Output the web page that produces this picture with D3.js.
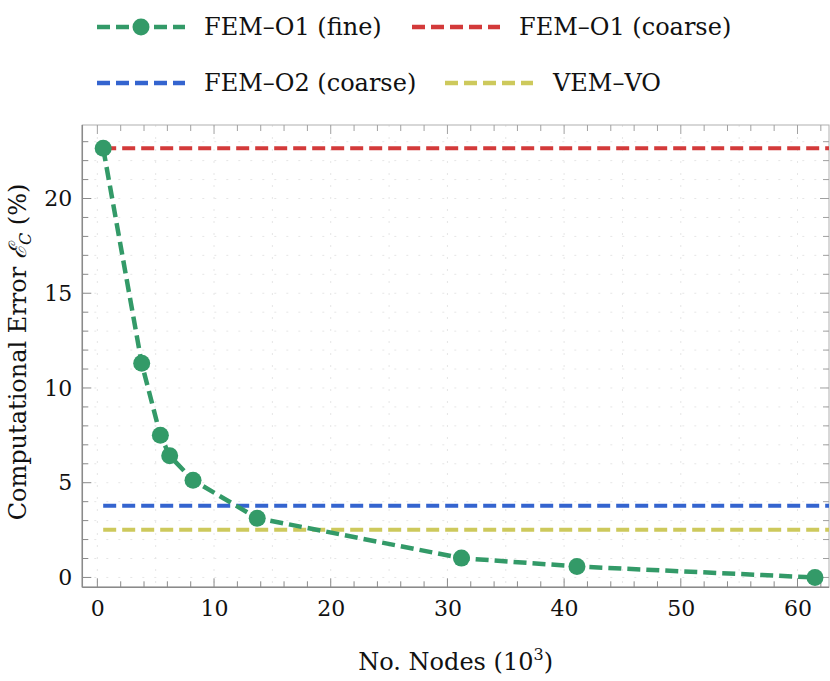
<!DOCTYPE html>
<html>
<head>
<meta charset="utf-8">
<script src="https://cdn.jsdelivr.net/npm/d3@7"></script>
<style>
  body { margin: 0; background: #fff; }
  text { font-family: "DejaVu Serif", serif; fill: #111; }
</style>
</head>
<body>
<div id="chart"></div>
<script>
// data
var nodes = [0.5, 3.8, 5.4, 6.2, 8.2, 13.7, 31.2, 41.1, 61.5];   // 10^3 nodes
var errFine = [22.65, 11.3, 7.5, 6.42, 5.13, 3.13, 1.02, 0.58, 0.0];
var errO1Coarse = 22.65;
var errO2Coarse = 3.78;
var errVem = 2.52;
var xTicks = [0, 10, 20, 30, 40, 50, 60];
var yTicks = [0, 5, 10, 15, 20];

var colGreen = "#339a68", colRed = "#d33a3a", colBlue = "#3464cf", colYellow = "#cdc95c";

var W = 830, H = 681;
// plot box (named so they don't clash with window.top)
var pLeft = 82.3, pRight = 829, pTop = 125, pBottom = 587.3;

var svg = d3.select("#chart").append("svg")
  .attr("width", W).attr("height", H);

var x = d3.scaleLinear().domain([-1.29, 62.7]).range([pLeft, pRight]);
var y = d3.scaleLinear().domain([-0.52, 23.88]).range([pBottom, pTop]);

// faint dotted grid
var grid = svg.append("g");
grid.selectAll("line.gx").data(d3.range(0, 61, 5)).enter().append("line")
  .attr("x1", d => x(d)).attr("x2", d => x(d))
  .attr("y1", pTop).attr("y2", pBottom)
  .attr("stroke", "#e6e6e6").attr("stroke-width", 1).attr("stroke-dasharray", "2,10");
grid.selectAll("line.gy").data(d3.range(0, 24, 1)).enter().append("line")
  .attr("y1", d => y(d)).attr("y2", d => y(d))
  .attr("x1", pLeft).attr("x2", pRight)
  .attr("stroke", "#e6e6e6").attr("stroke-width", 1).attr("stroke-dasharray", "2,10");

// frame + ticks (inward on all sides)
var tickCol = "#8a8a8a";
svg.append("rect").attr("x", pLeft).attr("y", pTop)
  .attr("width", pRight - pLeft).attr("height", pBottom - pTop)
  .attr("fill", "none").attr("stroke", "#b0b0b0").attr("stroke-width", 1);

var xMinor = d3.range(0, 63, 2);
var yMinor = d3.range(0, 24, 1);

function isMajor(v, step) { return Math.abs(v % step) < 1e-9; }

xMinor.forEach(function (v) {
  var len = isMajor(v, 10) ? 9 : 6;
  svg.append("line").attr("x1", x(v)).attr("x2", x(v)).attr("y1", pBottom).attr("y2", pBottom - len)
    .attr("stroke", tickCol).attr("stroke-width", 1);
  svg.append("line").attr("x1", x(v)).attr("x2", x(v)).attr("y1", pTop).attr("y2", pTop + len)
    .attr("stroke", "#a0a0a0").attr("stroke-width", 1);
});
yMinor.forEach(function (v) {
  var len = isMajor(v, 5) ? 9 : 6;
  svg.append("line").attr("y1", y(v)).attr("y2", y(v)).attr("x1", pLeft).attr("x2", pLeft + len)
    .attr("stroke", tickCol).attr("stroke-width", 1);
  svg.append("line").attr("y1", y(v)).attr("y2", y(v)).attr("x1", pRight).attr("x2", pRight - len)
    .attr("stroke", "#a0a0a0").attr("stroke-width", 1);
});

// bottom and left axis lines, darker
svg.append("line").attr("x1", pLeft).attr("x2", pRight).attr("y1", pBottom).attr("y2", pBottom)
  .attr("stroke", tickCol).attr("stroke-width", 1.5);
svg.append("line").attr("x1", pLeft).attr("x2", pLeft).attr("y1", pTop).attr("y2", pBottom)
  .attr("stroke", tickCol).attr("stroke-width", 1.5);

// tick labels through d3 axes
var gx = svg.append("g").attr("transform", "translate(0," + pBottom + ")")
  .call(d3.axisBottom(x).tickValues(xTicks).tickSize(0).tickPadding(13));
var gy = svg.append("g").attr("transform", "translate(" + pLeft + ",0)")
  .call(d3.axisLeft(y).tickValues(yTicks).tickSize(0).tickPadding(10));
[gx, gy].forEach(function (g) {
  g.select(".domain").remove();
  g.selectAll("text").style("font-family", "DejaVu Serif, serif").style("font-size", "22px").attr("fill", "#111");
});

// horizontal reference lines
var refs = [
  { v: errO1Coarse, c: colRed },
  { v: errO2Coarse, c: colBlue },
  { v: errVem, c: colYellow }
];
svg.selectAll("line.ref").data(refs).enter().append("line")
  .attr("x1", x(nodes[0])).attr("x2", pRight)
  .attr("y1", d => y(d.v)).attr("y2", d => y(d.v))
  .attr("stroke", d => d.c).attr("stroke-width", 4).attr("stroke-dasharray", "13,6");

// fine FEM curve (straight segments between the samples)
var pts = nodes.map((n, i) => [n, errFine[i]]);
var line = d3.line().x(d => x(d[0])).y(d => y(d[1]));
svg.append("path").datum(pts).attr("d", line)
  .attr("fill", "none").attr("stroke", colGreen).attr("stroke-width", 4.5)
  .attr("stroke-dasharray", "13,6");
svg.selectAll("circle.pt").data(pts).enter().append("circle")
  .attr("cx", d => x(d[0])).attr("cy", d => y(d[1])).attr("r", 8.5)
  .attr("fill", colGreen);

// axis titles
var xt = svg.append("text").attr("x", (pLeft + pRight) / 2).attr("y", 670)
  .attr("text-anchor", "middle").style("font-size", "24px");
xt.append("tspan").text("No. Nodes (10");
xt.append("tspan").text("3").style("font-size", "16px").attr("dy", -10);
xt.append("tspan").text(")").attr("dy", 10);

var yt = svg.append("text")
  .attr("transform", "translate(26," + 352 + ") rotate(-90)")
  .attr("text-anchor", "middle").style("font-size", "24px");
yt.append("tspan").text("Computational Error ");
yt.append("tspan").text("\u2130").style("font-style", "italic");
yt.append("tspan").text("C").style("font-style", "italic").style("font-size", "16px").attr("dy", 5);
yt.append("tspan").text(" (%)").attr("dy", -5);

// legend
var legend = [
  { name: "FEM\u2013O1 (fine)", c: colGreen, x: 97, y: 27, marker: true, tx: 204 },
  { name: "FEM\u2013O1 (coarse)", c: colRed, x: 412, y: 27, marker: false, tx: 519 },
  { name: "FEM\u2013O2 (coarse)", c: colBlue, x: 97, y: 83, marker: false, tx: 204 },
  { name: "VEM\u2013VO", c: colYellow, x: 445, y: 83, marker: false, tx: 553 }
];
var lg = svg.selectAll("g.leg").data(legend).enter().append("g");
lg.append("line").attr("x1", d => d.x).attr("x2", d => d.x + 88)
  .attr("y1", d => d.y).attr("y2", d => d.y)
  .attr("stroke", d => d.c).attr("stroke-width", 4.5).attr("stroke-dasharray", "13,6");
lg.filter(d => d.marker).append("circle")
  .attr("cx", d => d.x + 44).attr("cy", d => d.y).attr("r", 8.5).attr("fill", d => d.c);
lg.append("text").attr("x", d => d.tx).attr("y", d => d.y + 8)
  .style("font-size", "24px").text(d => d.name);
</script>
</body>
</html>
